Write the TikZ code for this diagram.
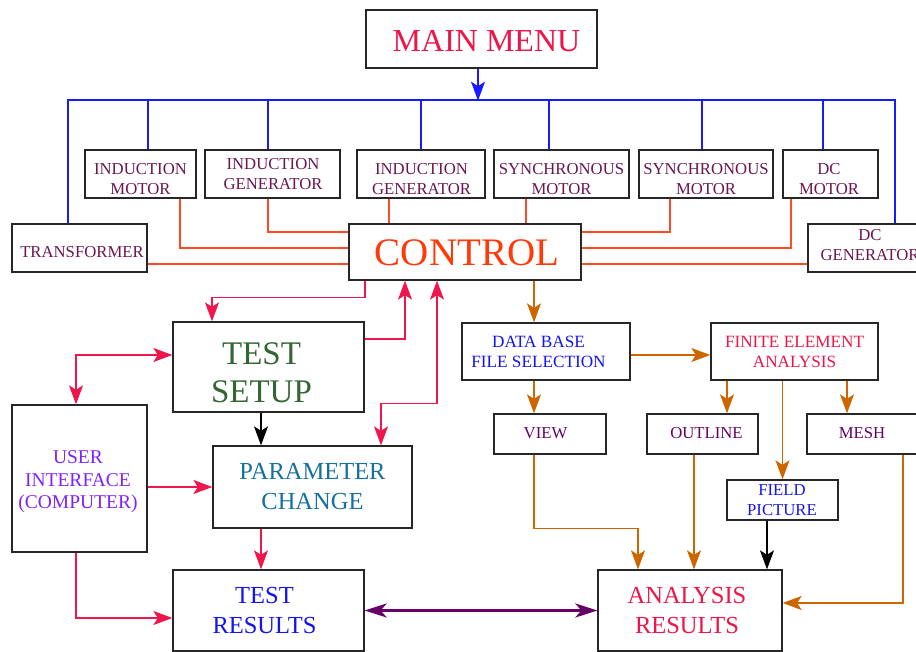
\documentclass[tikz,border=0pt]{standalone}
\usepackage{fontspec}
\setmainfont{Liberation Serif}
\usetikzlibrary{arrows.meta}
\definecolor{menured}{HTML}{EE1548}
\definecolor{ctrlred}{HTML}{FF3A0A}
\definecolor{boxtxt}{HTML}{6B1650}
\definecolor{tsgreen}{HTML}{336633}
\definecolor{uiviolet}{HTML}{7F22FF}
\definecolor{pcblue}{HTML}{1670A0}
\definecolor{trblue}{HTML}{1414EE}
\definecolor{vpurple}{HTML}{660066}
\definecolor{busblue}{HTML}{1A1AFF}
\definecolor{ctrlline}{HTML}{FF4A26}
\definecolor{arrred}{HTML}{F0154A}
\definecolor{arrorange}{HTML}{CC6600}
\begin{document}
\begin{tikzpicture}[x=1pt,y=-1pt,
  box/.style={draw=black!85, line width=1.3pt, fill=white, inner sep=0pt},
  txt/.style={inner sep=0pt, align=center},
  smalltxt/.style={txt, font=\fontsize{16.7}{20}\selectfont, text=boxtxt},
  midtxt/.style={txt, font=\fontsize{17.2}{20.5}\selectfont},
  bigtxt/.style={txt, font=\fontsize{24.5}{30}\selectfont},
  tip/.style={-{Stealth[length=19pt,width=14pt,inset=4.5pt]}},
  busline/.style={draw=busblue, line width=1.2pt},
  ctrlwire/.style={draw=ctrlline, line width=1.2pt},
  redarr/.style={draw=arrred, line width=1.3pt, tip},
  redboth/.style={draw=arrred, line width=1.3pt, {Stealth[length=19pt,width=14pt,inset=4.5pt]}-{Stealth[length=19pt,width=14pt,inset=4.5pt]}},
  orarr/.style={draw=arrorange, line width=1.3pt, tip},
  blkarr/.style={draw=black, line width=1.3pt, tip},
]
\path[use as bounding box] (0,0) rectangle (916,652);

% boxes
\node[box, minimum width=231pt, minimum height=58pt] (mainmenu) at (481.5,39) {};
\node[box, minimum width=232pt, minimum height=56pt] (control) at (465,252) {};
\node[box, minimum width=135pt, minimum height=48pt] (transformer) at (79.5,248) {};
\node[box, minimum width=111pt, minimum height=48pt] (im) at (140.5,174) {};
\node[box, minimum width=135pt, minimum height=48pt] (igone) at (272.5,174) {};
\node[box, minimum width=128pt, minimum height=48pt] (igtwo) at (421,174) {};
\node[box, minimum width=135pt, minimum height=48pt] (smone) at (561.5,174) {};
\node[box, minimum width=134pt, minimum height=48pt] (smtwo) at (706,174) {};
\node[box, minimum width=95pt, minimum height=48pt] (dcm) at (830.5,174) {};
\node[box, minimum width=124pt, minimum height=48pt] (dcg) at (870,248) {};
\node[box, minimum width=191pt, minimum height=90pt] (testsetup) at (268.5,367) {};
\node[box, minimum width=199pt, minimum height=82pt] (param) at (312.5,487) {};
\node[box, minimum width=135pt, minimum height=147pt] (user) at (79.5,478.5) {};
\node[box, minimum width=191pt, minimum height=81pt] (testres) at (268.5,610.5) {};
\node[box, minimum width=184pt, minimum height=81pt] (anares) at (690,610.5) {};
\node[box, minimum width=168pt, minimum height=57pt] (db) at (546,351.5) {};
\node[box, minimum width=167pt, minimum height=57pt] (fea) at (794.5,351.5) {};
\node[box, minimum width=112pt, minimum height=40pt] (view) at (550,434) {};
\node[box, minimum width=111pt, minimum height=40pt] (outline) at (702.5,434) {};
\node[box, minimum width=111pt, minimum height=40pt] (mesh) at (862.5,434) {};
\node[box, minimum width=111pt, minimum height=40pt] (field) at (782.5,500) {};

% texts
\node[txt, font=\fontsize{32}{36}\selectfont, text=menured] (mainmenuT) at (486.5,41) {MAIN MENU};
\node[txt, font=\fontsize{39}{44}\selectfont, text=ctrlred] (controlT) at (467,253) {CONTROL};
\node[smalltxt] (transformerT) at (82,252) {TRANSFORMER};
\node[smalltxt] (imT) at (140.5,179) {INDUCTION\\MOTOR};
\node[smalltxt] (igoneT) at (273,174) {INDUCTION\\GENERATOR};
\node[smalltxt] (igtwoT) at (421.5,179) {INDUCTION\\GENERATOR};
\node[smalltxt] (smoneT) at (561.5,179) {SYNCHRONOUS\\MOTOR};
\node[smalltxt] (smtwoT) at (706,179) {SYNCHRONOUS\\MOTOR};
\node[smalltxt] (dcmT) at (829,179) {DC\\MOTOR};
\node[smalltxt] (dcgT) at (870,245.5) {DC\\GENERATOR};
\node[txt, font=\fontsize{33}{38}\selectfont, text=tsgreen] (testsetupT) at (261.5,373) {TEST\\SETUP};
\node[bigtxt, text=pcblue] (paramT) at (312.5,487) {PARAMETER\\CHANGE};
\node[txt, font=\fontsize{19.5}{22.5}\selectfont, text=uiviolet] (userT) at (78,482) {USER\\INTERFACE\\(COMPUTER)};
\node[bigtxt, text=trblue] (testresT) at (264.5,610.5) {TEST\\RESULTS};
\node[bigtxt, text=menured] (anaresT) at (687,610.5) {ANALYSIS\\RESULTS};
\node[midtxt, text=trblue] (dbT) at (538.5,352) {DATA BASE\\FILE SELECTION};
\node[midtxt, text=menured] (feaT) at (794.5,352) {FINITE ELEMENT\\ANALYSIS};
\node[smalltxt, text=vpurple] (viewT) at (545.5,433) {VIEW};
\node[smalltxt, text=vpurple] (outlineT) at (706.5,433) {OUTLINE};
\node[smalltxt, text=vpurple] (meshT) at (862,433) {MESH};
\node[smalltxt, text=trblue] (fieldT) at (782,500.5) {FIELD\\PICTURE};

% blue bus
\coordinate (busL) at (68,100);
\coordinate (busR) at (895,100);
\draw[busline] ([xshift=-11.5pt]transformer.north) -- (busL) -- (busR) -- ([xshift=25pt]dcg.north);
\draw[busline] ([xshift=7.5pt]im.north) -- ++(0,-50);
\draw[busline] ([xshift=-4.5pt]igone.north) -- ++(0,-50);
\draw[busline] (igtwo.north) -- ++(0,-50);
\draw[busline] ([xshift=-12.5pt]smone.north) -- ++(0,-50);
\draw[busline] ([xshift=-4pt]smtwo.north) -- ++(0,-50);
\draw[busline] ([xshift=-7.5pt]dcm.north) -- ++(0,-50);
\draw[busline, -{Stealth[length=19pt,width=14pt,inset=4.5pt]}] ([xshift=-3.5pt]mainmenu.south) -- ++(0,32);

% control wires
\draw[ctrlwire] ([xshift=39.5pt]im.south) |- ([yshift=4pt]control.west);
\draw[ctrlwire] ([xshift=-4.5pt]igone.south) |- ([yshift=20pt]control.west);
\draw[ctrlwire] ([xshift=-32pt]igtwo.south) -- ([xshift=-76pt]control.north);
\draw[ctrlwire] ([yshift=-16pt]transformer.east) -- ([yshift=-12pt]control.west);
\draw[ctrlwire] ([xshift=-35.5pt]smone.south) -- ([xshift=61pt]control.north);
\draw[ctrlwire] ([xshift=-36pt]smtwo.south) |- ([yshift=20pt]control.east);
\draw[ctrlwire] ([xshift=-39.5pt]dcm.south) |- ([yshift=4pt]control.east);
\draw[ctrlwire] ([yshift=-16pt]dcg.west) -- ([yshift=-12pt]control.east);

% left side arrows
\draw[redarr] ([xshift=-100pt]control.south) -- ++(0,17) -| ([xshift=-56.5pt]testsetup.north);
\draw[redarr] ([yshift=28pt]testsetup.east) -| ([xshift=-60pt]control.south);
\draw[redboth] ([xshift=68.5pt]param.north) -- ++(0,-42) -| ([xshift=-28pt]control.south);
\draw[blkarr] ([xshift=-7.5pt]testsetup.south) -- ([xshift=-51.5pt]param.north);
\draw[redboth] ([xshift=-3.5pt]user.north) |- ([yshift=12pt]testsetup.west);
\draw[redarr] ([yshift=-8.5pt]user.east) -- (param.west);
\draw[redarr] ([xshift=-51.5pt]param.south) -- ([xshift=-7.5pt]testres.north);
\draw[redarr] ([xshift=-3.5pt]user.south) |- ([yshift=-7.5pt]testres.west);
\draw[draw=vpurple, line width=2.6pt, {Stealth[length=22pt,width=14pt,inset=6pt]}-{Stealth[length=22pt,width=14pt,inset=6pt]}] (testres.east) -- (anares.west);

% right side arrows
\draw[orarr] ([xshift=69pt]control.south) -- ([xshift=-12pt]db.north);
\draw[orarr] ([yshift=-3.5pt]db.east) -- ([yshift=-3.5pt]fea.west);
\draw[orarr] ([xshift=-12pt]db.south) -- ([xshift=-16pt]view.north);
\draw[orarr] ([xshift=-67.5pt]fea.south) -- ([xshift=24.5pt]outline.north);
\draw[orarr] ([xshift=-12pt]fea.south) -- (field.north);
\draw[orarr] ([xshift=52.5pt]fea.south) -- ([xshift=-15.5pt]mesh.north);
\draw[orarr] ([xshift=-16pt]view.south) -- ++(0,74) -| ([xshift=-52pt]anares.north);
\draw[orarr] ([xshift=-8.5pt]outline.south) -- ([xshift=4pt]anares.north);
\draw[blkarr] ([xshift=-15.5pt]field.south) -- ([xshift=77pt]anares.north);
\draw[orarr] ([xshift=40.5pt]mesh.south) |- ([yshift=7.5pt]anares.east);
\end{tikzpicture}
\end{document}
